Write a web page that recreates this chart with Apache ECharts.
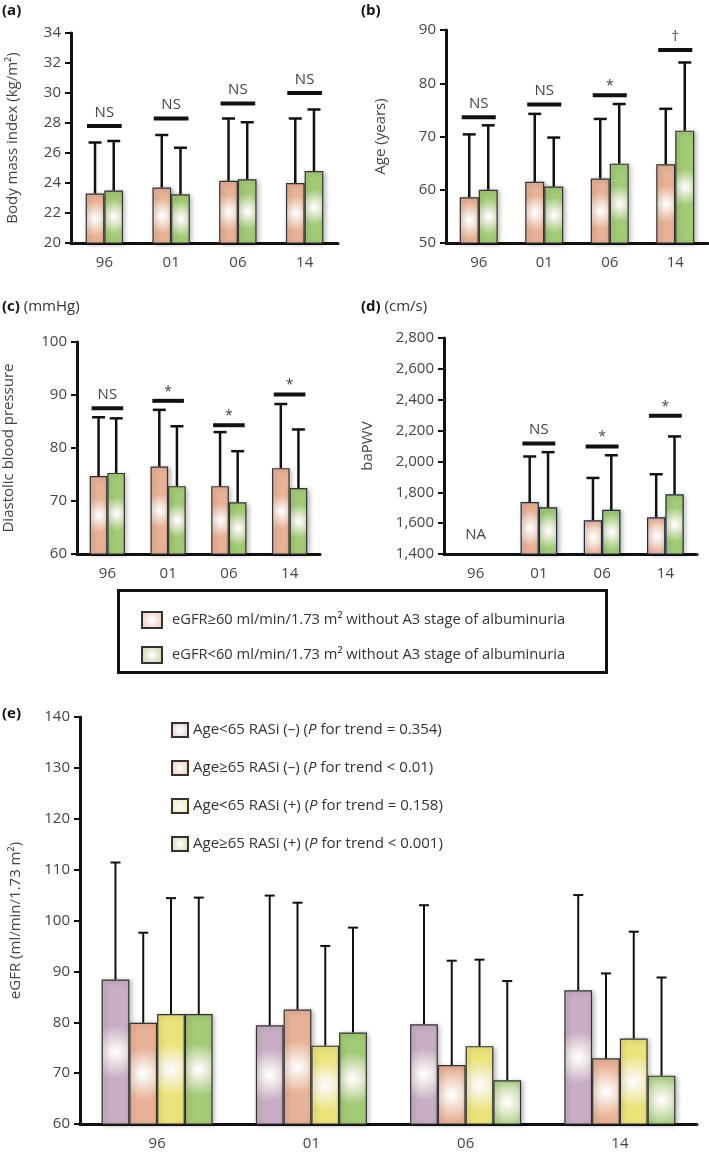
<!DOCTYPE html>
<html><head><meta charset="utf-8">
<script src="https://cdn.jsdelivr.net/npm/echarts@6/dist/echarts.min.js"></script>
<style>html,body{margin:0;padding:0;background:#fff}#c{width:709px;height:1153px}</style>
</head><body><div id="c"></div>
<script>
// ---------- data ----------
const years = ['96', '01', '06', '14'];
const nameHi = 'eGFR≥60 ml/min/1.73 m² without A3 stage of albuminuria';
const nameLo = 'eGFR<60 ml/min/1.73 m² without A3 stage of albuminuria';
const eNames = [
  'Age<65 RASi (–) (P for trend = 0.354)',
  'Age≥65 RASi (–) (P for trend < 0.01)',
  'Age<65 RASi (+) (P for trend = 0.158)',
  'Age≥65 RASi (+) (P for trend < 0.001)'
];

// (a) Body mass index
const bmiHi = [23.3, 23.7, 24.15, 24.0];
const bmiHiTop = [26.7, 27.2, 28.3, 28.3];
const bmiLo = [23.5, 23.25, 24.25, 24.8];
const bmiLoTop = [26.8, 26.35, 28.05, 28.9];
const bmiSig = [27.8, 28.3, 29.3, 30.0];
const bmiSigLabel = ['NS', 'NS', 'NS', 'NS'];

// (b) Age
const ageHi = [58.6, 61.5, 62.1, 64.8];
const ageHiTop = [70.4, 74.25, 73.3, 75.2];
const ageLo = [60.0, 60.6, 64.9, 71.1];
const ageLoTop = [72.1, 69.8, 76.1, 83.9];
const ageSig = [73.6, 76.0, 77.75, 86.25];
const ageSigLabel = ['NS', 'NS', '*', '†'];

// (c) Diastolic blood pressure
const dbpHi = [74.7, 76.5, 72.8, 76.2];
const dbpHiTop = [85.8, 87.2, 83.0, 88.3];
const dbpLo = [75.3, 72.8, 69.75, 72.45];
const dbpLoTop = [85.6, 84.1, 79.4, 83.5];
const dbpSig = [87.5, 88.9, 84.3, 90.1];
const dbpSigLabel = ['NS', '*', '*', '*'];

// (d) baPWV
const pwvHi = [null, 1737, 1619, 1638];
const pwvHiTop = [null, 2032, 1893, 1917];
const pwvLo = [null, 1703, 1686, 1787];
const pwvLoTop = [null, 2060, 2040, 2162];
const pwvSig = [null, 2116, 2097, 2296];
const pwvSigLabel = ['NA', 'NS', '*', '*'];

// (e) eGFR
const eMeans = [
  [88.4, 79.4, 79.6, 86.3],
  [79.9, 82.5, 71.6, 72.9],
  [81.6, 75.4, 75.3, 76.8],
  [81.6, 78.0, 68.6, 69.5]
];
const eTops = [
  [111.4, 104.9, 103.0, 105.0],
  [97.6, 103.5, 92.1, 89.6],
  [104.4, 95.0, 92.3, 97.8],
  [104.5, 98.6, 88.1, 88.8]
];

// ---------- styling ----------
const FONT = '"Open Sans", "Noto Sans", sans-serif';
const TXT = '#444';
const baseColors = { purple: '#c8aec5', pink: '#e8b296', yellow: '#ebe37a', green: '#a2cb76' };
function grad(c) {
  return { type: 'radial', x: 0.5, y: 0.5, r: 0.95,
    colorStops: [{ offset: 0, color: '#ffffff' }, { offset: 0.12, color: '#fbf7f4' }, { offset: 1, color: c }] };
}

const grids = [
  { left: 71, top: 33, width: 267, height: 210 },
  { left: 446, top: 30, width: 262, height: 213 },
  { left: 71, top: 342, width: 249, height: 212 },
  { left: 444, top: 338, width: 253, height: 216 },
  { left: 78, top: 717, width: 619, height: 407 }
];
const yCfg = [
  { min: 20, max: 34, interval: 2, name: 'Body mass index (kg/m²)', gap: 51 },
  { min: 50, max: 90, interval: 10, name: 'Age (years)', gap: 58 },
  { min: 60, max: 100, interval: 10, name: 'Diastolic blood pressure', gap: 61 },
  { min: 1400, max: 2800, interval: 200, name: 'baPWV', gap: 69 },
  { min: 60, max: 140, interval: 10, name: 'eGFR (ml/min/1.73 m²)', gap: 57 }
];

const xAxes = grids.map((g, i) => ({
  gridIndex: i, type: 'category', data: years,
  axisLine: { lineStyle: { color: '#111', width: 3 } },
  axisTick: { length: 7, lineStyle: { color: '#111', width: 2.5 } },
  axisLabel: { color: TXT, fontSize: 15, margin: 12, fontFamily: FONT }
}));
const yAxes = yCfg.map((c, i) => ({
  gridIndex: i, type: 'value', min: c.min, max: c.max, interval: c.interval,
  axisLine: { show: true, lineStyle: { color: '#111', width: 3 } },
  axisTick: { show: true, length: 6, lineStyle: { color: '#111', width: 2 } },
  splitLine: { show: false },
  axisLabel: { color: TXT, fontSize: 15, margin: 10, fontFamily: FONT,
    formatter: v => v >= 1000 ? v.toLocaleString('en-US') : String(v) },
  name: c.name, nameLocation: 'middle', nameGap: c.gap, nameRotate: 90,
  nameTextStyle: { color: TXT, fontSize: 15, fontFamily: FONT }
}));

const series = [];
function addBars(g, names, means, tops, colors, frac, border, lw, cap) {
  const n = means.length;
  means.forEach((m, i) => {
    series.push({
      type: 'bar', name: names[i], xAxisIndex: g, yAxisIndex: g, data: m,
      barWidth: (frac * 100) + '%', barGap: '0%', z: 2,
      itemStyle: { color: grad(colors[i]), borderColor: border, borderWidth: 1.2,
        shadowBlur: 5, shadowColor: 'rgba(0,0,0,0.28)', shadowOffsetX: 2, shadowOffsetY: 1 }
    });
  });
  means.forEach((m, i) => {
    const data = [];
    m.forEach((v, k) => { if (v != null) data.push([k, v, tops[i][k]]); });
    series.push({
      type: 'custom', xAxisIndex: g, yAxisIndex: g, silent: true, z: 3, data,
      renderItem: (params, api) => {
        const k = api.value(0);
        const p0 = api.coord([k, api.value(1)]);
        const p1 = api.coord([k, api.value(2)]);
        const bw = api.size([1, 0])[0] * frac;
        const x = p0[0] + (i - (n - 1) / 2) * bw;
        return { type: 'group', children: [
          { type: 'line', shape: { x1: x, y1: p0[1], x2: x, y2: p1[1] }, style: { stroke: '#111', lineWidth: lw } },
          { type: 'line', shape: { x1: x - cap / 2, y1: p1[1], x2: x + cap / 2, y2: p1[1] }, style: { stroke: '#111', lineWidth: lw } }
        ] };
      }
    });
  });
}
function addSig(g, sig, labels, yMin) {
  series.push({
    type: 'custom', xAxisIndex: g, yAxisIndex: g, silent: true, z: 4,
    data: years.map((_, k) => [k, sig[k] == null ? yMin : sig[k]]),
    renderItem: (params, api) => {
      const k = params.dataIndex;
      const c = api.coord([api.value(0), api.value(1)]);
      const hw = api.size([1, 0])[0] * 0.26;
      const lab = labels[k];
      if (sig[k] == null) {
        return { type: 'text', style: { text: lab, x: c[0], y: c[1] - 12, align: 'center', verticalAlign: 'bottom',
          font: '15px ' + FONT, fill: TXT } };
      }
      const isStar = lab === '*';
      return { type: 'group', children: [
        { type: 'line', shape: { x1: c[0] - hw, y1: c[1], x2: c[0] + hw, y2: c[1] }, style: { stroke: '#111', lineWidth: 4 } },
        { type: 'text', style: { text: lab, x: c[0], y: c[1] - (isStar ? 2 : 6), align: 'center', verticalAlign: 'bottom',
          font: (isStar ? '14px ' : '15px ') + FONT, fill: TXT } }
      ] };
    }
  });
}

const pairColors = [baseColors.pink, baseColors.green];
addBars(0, [nameHi, nameLo], [bmiHi, bmiLo], [bmiHiTop, bmiLoTop], pairColors, 0.28, '#333', 2.5, 13);
addSig(0, bmiSig, bmiSigLabel, 20);
addBars(1, [nameHi, nameLo], [ageHi, ageLo], [ageHiTop, ageLoTop], pairColors, 0.29, '#333', 2.5, 13);
addSig(1, ageSig, ageSigLabel, 50);
addBars(2, [nameHi, nameLo], [dbpHi, dbpLo], [dbpHiTop, dbpLoTop], pairColors, 0.29, '#333', 2.5, 13);
addSig(2, dbpSig, dbpSigLabel, 60);
addBars(3, [nameHi, nameLo], [pwvHi, pwvLo], [pwvHiTop, pwvLoTop], pairColors, 0.29, '#1d2a45', 2.5, 13);
addSig(3, pwvSig, pwvSigLabel, 1400);
addBars(4, eNames, eMeans, eTops, [baseColors.purple, baseColors.pink, baseColors.yellow, baseColors.green], 0.18, '#333', 2, 10);

const option = {
  animation: false,
  textStyle: { fontFamily: FONT },
  grid: grids,
  xAxis: xAxes,
  yAxis: yAxes,
  legend: [
    { left: 136, top: 606, orient: 'vertical', itemWidth: 20, itemHeight: 16, itemGap: 17,
      selectedMode: false, icon: 'rect', data: [nameHi, nameLo],
      textStyle: { fontSize: 14.7, color: '#333', fontFamily: FONT, padding: [0, 0, 0, 5] } },
    { left: 166, top: 717, orient: 'vertical', itemWidth: 16, itemHeight: 14, itemGap: 22,
      selectedMode: false, icon: 'rect', data: eNames,
      formatter: n => n.replace('(P ', '({i|P} '),
      textStyle: { fontSize: 15, color: '#333', fontFamily: FONT,
        rich: { i: { fontStyle: 'italic', fontSize: 15, color: '#333', fontFamily: FONT } } } }
  ],
  graphic: [
    { type: 'text', left: 2, top: 3, style: { text: '(a)', font: 'bold 15px ' + FONT, fill: '#111' } },
    { type: 'text', left: 361, top: 3, style: { text: '(b)', font: 'bold 15px ' + FONT, fill: '#111' } },
    { type: 'text', left: 2, top: 299, style: { text: '{b|(c)} (mmHg)', font: '15px ' + FONT, fill: '#333',
      rich: { b: { fontWeight: 'bold', fontSize: 15, fontFamily: FONT, fill: '#111' } } } },
    { type: 'text', left: 361, top: 299, style: { text: '{b|(d)} (cm/s)', font: '15px ' + FONT, fill: '#333',
      rich: { b: { fontWeight: 'bold', fontSize: 15, fontFamily: FONT, fill: '#111' } } } },
    { type: 'text', left: 2, top: 706, style: { text: '(e)', font: 'bold 15px ' + FONT, fill: '#111' } },
    { type: 'rect', shape: { x: 118.5, y: 590.5, width: 488, height: 82 }, style: { fill: 'none', stroke: '#111', lineWidth: 3 } }
  ],
  series
};
const chart = echarts.init(document.getElementById('c'), null, { renderer: 'canvas' });
chart.setOption(option);
</script>
</body></html>
